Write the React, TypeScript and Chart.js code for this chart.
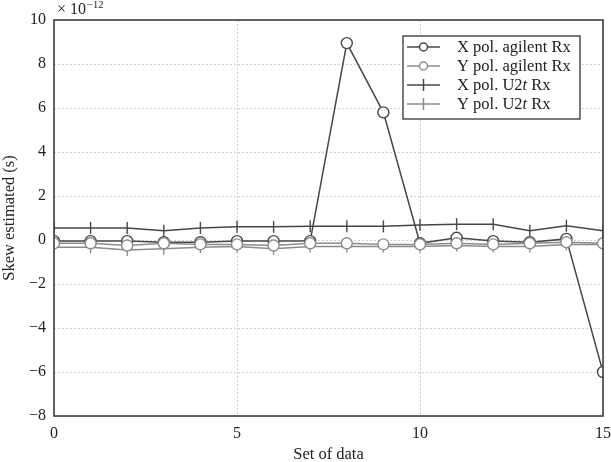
import React, { useEffect, useRef } from "react";
import { Chart, registerables } from "chart.js";

Chart.register(...registerables);

const setIndex = [0, 1, 2, 3, 4, 5, 6, 7, 8, 9, 10, 11, 12, 13, 14, 15];
const xAgilent = [-0.05, -0.05, -0.05, -0.1, -0.1, -0.05, -0.05, -0.05, 8.95, 5.8, -0.15, 0.1, -0.05, -0.1, 0.05, -6.0];
const yAgilent = [-0.15, -0.15, -0.25, -0.15, -0.2, -0.2, -0.25, -0.15, -0.15, -0.2, -0.2, -0.15, -0.2, -0.15, -0.1, -0.15];
const xU2t = [0.55, 0.55, 0.55, 0.42, 0.55, 0.6, 0.6, 0.62, 0.62, 0.62, 0.68, 0.72, 0.72, 0.42, 0.65, 0.42];
const yU2t = [-0.33, -0.33, -0.45, -0.4, -0.33, -0.3, -0.4, -0.3, -0.3, -0.3, -0.3, -0.25, -0.3, -0.3, -0.2, -0.2];
const seriesLabels = ["X pol. agilent Rx", "Y pol. agilent Rx", "X pol. U2t Rx", "Y pol. U2t Rx"];
const xTicks = [0, 5, 10, 15];
const yTicks = [-8, -6, -4, -2, 0, 2, 4, 6, 8, 10];

const DARK = "#474747";
const LIGHT = "#8c8c8c";
const FONT = "'Liberation Serif', 'DejaVu Serif', serif";

const toPts = (vals: number[]) => vals.map((v, i) => ({ x: setIndex[i], y: v }));

const framePlugin = {
  id: "frame",
  afterDatasetsDraw(chart: any) {
    const { ctx, chartArea: a } = chart;
    ctx.save();
    ctx.strokeStyle = "#333";
    ctx.lineWidth = 1.5;
    ctx.strokeRect(a.left, a.top, a.right - a.left, a.bottom - a.top);

    // exponent label
    ctx.fillStyle = "#222";
    ctx.textBaseline = "alphabetic";
    ctx.textAlign = "left";
    ctx.font = `16px ${FONT}`;
    ctx.fillText("× 10", 57, 14);
    const w = ctx.measureText("× 10").width;
    ctx.font = `10.5px ${FONT}`;
    ctx.fillText("−12", 57 + w + 1, 8);

    // legend
    const bx = 403, by = 36, bw = 177, bh = 83;
    ctx.fillStyle = "#fff";
    ctx.fillRect(bx, by, bw, bh);
    ctx.strokeStyle = "#222";
    ctx.lineWidth = 1.2;
    ctx.strokeRect(bx, by, bw, bh);
    const rows = [47, 66, 85, 104];
    chart.data.datasets.forEach((ds: any, i: number) => {
      const y = rows[i];
      ctx.strokeStyle = ds.borderColor;
      ctx.lineWidth = 1.5;
      ctx.beginPath();
      ctx.moveTo(407, y);
      ctx.lineTo(440, y);
      ctx.stroke();
      if (ds.pointStyle === "circle") {
        ctx.fillStyle = "#fff";
        ctx.beginPath();
        ctx.arc(423.5, y, 4, 0, Math.PI * 2);
        ctx.fill();
        ctx.stroke();
      } else {
        ctx.beginPath();
        ctx.moveTo(423.5, y - 6);
        ctx.lineTo(423.5, y + 6);
        ctx.stroke();
      }
      ctx.fillStyle = "#222";
      ctx.textBaseline = "middle";
      ctx.font = `16.5px ${FONT}`;
      const label: string = ds.label;
      const k = label.indexOf("U2t");
      let x = 457;
      if (k >= 0) {
        const p1 = label.slice(0, k + 2);
        const p3 = label.slice(k + 3);
        ctx.fillText(p1, x, y + 1);
        x += ctx.measureText(p1).width;
        ctx.font = `italic 16.5px ${FONT}`;
        ctx.fillText("t", x, y + 1);
        x += ctx.measureText("t").width;
        ctx.font = `16.5px ${FONT}`;
        ctx.fillText(p3, x, y + 1);
      } else {
        ctx.fillText(label, x, y + 1);
      }
    });
    ctx.restore();
  },
};

export default function App() {
  const ref = useRef<HTMLCanvasElement>(null);
  useEffect(() => {
    document.body.style.margin = "0";
    const chart = new Chart(ref.current as HTMLCanvasElement, {
      type: "line",
      data: {
        datasets: [
          {
            label: seriesLabels[0],
            data: toPts(xAgilent),
            borderColor: DARK,
            backgroundColor: "#fff",
            borderWidth: 1.5,
            pointStyle: "circle",
            pointRadius: 5.5,
            pointBorderWidth: 1.4,
            order: 1,
          },
          {
            label: seriesLabels[1],
            data: toPts(yAgilent),
            borderColor: LIGHT,
            backgroundColor: "#fff",
            borderWidth: 1.5,
            pointStyle: "circle",
            pointRadius: 5.5,
            pointBorderWidth: 1.4,
            order: 0,
          },
          {
            label: seriesLabels[2],
            data: toPts(xU2t),
            borderColor: DARK,
            backgroundColor: DARK,
            borderWidth: 1.5,
            pointStyle: "line",
            rotation: 90,
            pointRadius: 6,
            pointBorderWidth: 1.4,
            order: 3,
          },
          {
            label: seriesLabels[3],
            data: toPts(yU2t),
            borderColor: LIGHT,
            backgroundColor: LIGHT,
            borderWidth: 1.5,
            pointStyle: "line",
            rotation: 90,
            pointRadius: 6,
            pointBorderWidth: 1.4,
            order: 2,
          },
        ],
      },
      options: {
        animation: false,
        responsive: false,
        maintainAspectRatio: false,
        layout: { padding: { left: 0, top: 20, right: 8, bottom: 0 } },
        plugins: { legend: { display: false }, tooltip: { enabled: false } },
        scales: {
          x: {
            type: "linear",
            min: 0,
            max: 15,
            afterFit: (s: any) => { s.height = 46; s.paddingRight = 0; s.paddingLeft = 0; },
            afterBuildTicks: (s: any) => { s.ticks = xTicks.map((v) => ({ value: v })); },
            grid: { color: "#cfcfcf", lineWidth: 1, drawTicks: false },
            border: { display: false, dash: [2, 2] },
            ticks: { color: "#222", font: { family: FONT, size: 16 }, padding: 8 },
            title: {
              display: true,
              text: "Set of data",
              color: "#222",
              font: { family: FONT, size: 16.5 },
              padding: { top: 2, bottom: -3 },
            },
          },
          y: {
            type: "linear",
            min: -8,
            max: 10,
            afterFit: (s: any) => { s.width = 54; s.paddingTop = 0; s.paddingBottom = 0; },
            afterBuildTicks: (s: any) => { s.ticks = yTicks.map((v) => ({ value: v })); },
            grid: { color: "#cfcfcf", lineWidth: 1, drawTicks: false },
            border: { display: false, dash: [2, 2] },
            ticks: {
              color: "#222",
              font: { family: FONT, size: 16 },
              padding: 8,
              callback: (v: any) => String(v).replace("-", "−"),
            },
            title: {
              display: true,
              text: "Skew estimated (s)",
              color: "#222",
              font: { family: FONT, size: 16.5 },
              padding: { top: 0, bottom: 0 },
            },
          },
        },
      },
      plugins: [framePlugin],
    } as any);
    return () => chart.destroy();
  }, []);
  return <canvas ref={ref} width={611} height={462} style={{ display: "block" }} />;
}
